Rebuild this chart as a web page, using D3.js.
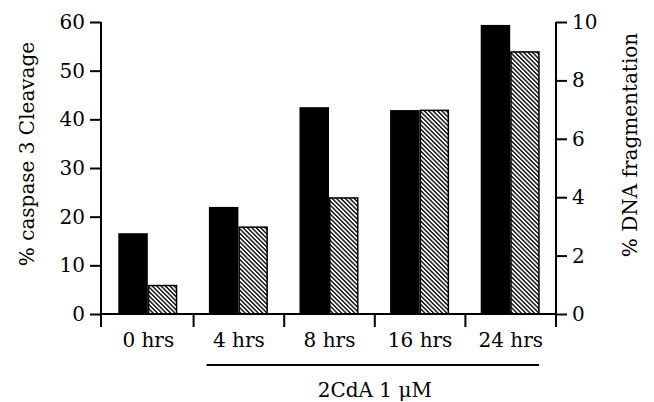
<!DOCTYPE html>
<html>
<head>
<meta charset="utf-8">
<script src="https://cdn.jsdelivr.net/npm/d3@7"></script>
<style>
  body { margin: 0; background: #fff; }
  text { font-family: "DejaVu Serif", serif; fill: #000; }
</style>
</head>
<body>
<svg id="chart" width="654" height="402"></svg>
<script>
// values
const categories = ["0 hrs", "4 hrs", "8 hrs", "16 hrs", "24 hrs"];
const caspase = [16.6, 22.0, 42.5, 41.9, 59.4];   // left axis, %
const dnaFrag = [1.0, 3.0, 4.0, 7.0, 9.0];        // right axis, %
const leftTicks = [0, 10, 20, 30, 40, 50, 60];
const rightTicks = [0, 2, 4, 6, 8, 10];

const svg = d3.select("#chart");

// hatch pattern for the DNA bars
svg.append("defs").append("pattern")
    .attr("id", "hatch")
    .attr("patternUnits", "userSpaceOnUse")
    .attr("width", 8).attr("height", 3.1)
    .attr("patternTransform", "rotate(45)")
  .append("line")
    .attr("x1", 0).attr("x2", 8)
    .attr("y1", 1.55).attr("y2", 1.55)
    .attr("stroke", "#000").attr("stroke-width", 1.35);

const x = d3.scaleBand().domain(categories).range([103, 556]);
const yL = d3.scaleLinear().domain([0, 60]).range([314, 22]);
const yR = d3.scaleLinear().domain([0, 10]).range([314, 22]);
const inner = d3.scaleBand().domain(["c", "d"]).range([-30, 29]);

const rows = categories.map((c, i) => ({cat: c, c: caspase[i], d: dnaFrag[i]}));

// bars
const g = svg.append("g");
g.selectAll("rect.casp")
  .data(rows)
  .enter()
  .append("rect")
    .attr("class", "casp")
    .attr("x", d => x(d.cat) + x.bandwidth() / 2 + inner("c"))
    .attr("width", inner.bandwidth())
    .attr("y", d => yL(d.c))
    .attr("height", d => yL(0) - yL(d.c))
    .style("fill", "#000");

g.selectAll("rect.dna")
  .data(rows)
  .enter()
  .append("rect")
    .attr("class", "dna")
    .attr("x", d => x(d.cat) + x.bandwidth() / 2 + inner("d") + 0.75)
    .attr("width", inner.bandwidth() - 1.5)
    .attr("y", d => yR(d.d) + 0.75)
    .attr("height", d => yR(0) - yR(d.d) - 0.75)
    .style("fill", "url(#hatch)")
    .style("stroke", "#000")
    .style("stroke-width", 1.5);

// left axis
const axL = svg.append("g").attr("transform", "translate(101,0)")
  .call(d3.axisLeft(yL).tickValues(leftTicks).tickSize(11).tickPadding(5));
axL.select(".domain").remove();
axL.append("line").attr("x1", 0).attr("x2", 0).attr("y1", 22).attr("y2", 327)
  .attr("stroke", "#000").attr("stroke-width", 2);

// right axis
const axR = svg.append("g").attr("transform", "translate(556,0)")
  .call(d3.axisRight(yR).tickValues(rightTicks).tickSize(11).tickPadding(5));
axR.select(".domain").remove();
axR.append("line").attr("x1", 0).attr("x2", 0).attr("y1", 22).attr("y2", 327)
  .attr("stroke", "#000").attr("stroke-width", 2);

[axL, axR].forEach(a => {
  a.selectAll(".tick line").attr("stroke", "#000").attr("stroke-width", 2);
  a.selectAll(".tick text").style("font-size", "20px").style("font-family", "DejaVu Serif, serif");
});

// bottom axis: ticks at the band edges
const axB = svg.append("g").attr("transform", "translate(0,314)")
  .call(d3.axisBottom(x).tickSize(0).tickPadding(19));
axB.select(".domain").remove();
axB.selectAll(".tick text").style("font-size", "20px").style("font-family", "DejaVu Serif, serif");
axB.append("line").attr("x1", 101).attr("x2", 556).attr("y1", 0).attr("y2", 0)
  .attr("stroke", "#000").attr("stroke-width", 2);
axB.selectAll("line.sep")
  .data(categories.slice(1))
  .enter()
  .append("line")
    .attr("class", "sep")
    .attr("x1", d => x(d)).attr("x2", d => x(d))
    .attr("y1", 0).attr("y2", 13)
    .attr("stroke", "#000").attr("stroke-width", 2);

// treatment bracket under 4–24 hrs
svg.append("line")
  .attr("x1", x("4 hrs") + 13).attr("x2", x("24 hrs") + x.bandwidth() - 17)
  .attr("y1", 365).attr("y2", 365)
  .attr("stroke", "#000").attr("stroke-width", 2);
svg.append("text")
  .attr("x", (x("4 hrs") + x("24 hrs") + x.bandwidth()) / 2)
  .attr("y", 397)
  .attr("text-anchor", "middle")
  .style("font-size", "20px")
  .text("2CdA 1 μM");

// axis titles
svg.append("text")
  .attr("transform", "translate(34,154) rotate(-90)")
  .attr("text-anchor", "middle")
  .style("font-size", "20px")
  .text("% caspase 3 Cleavage");
svg.append("text")
  .attr("transform", "translate(637,145) rotate(-90)")
  .attr("text-anchor", "middle")
  .style("font-size", "20px")
  .text("% DNA fragmentation");
</script>
</body>
</html>
